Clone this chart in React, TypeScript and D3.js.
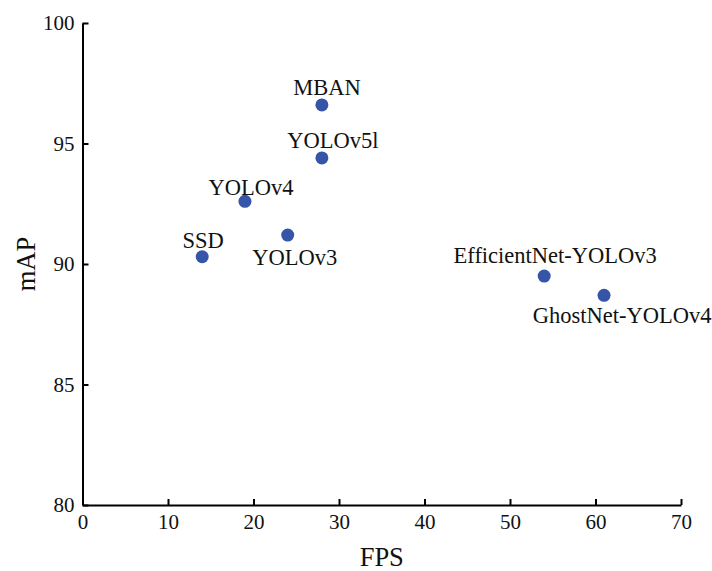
import { useEffect, useRef } from "react";
import * as d3 from "d3";

const models = ["MBAN", "YOLOv5l", "YOLOv4", "SSD", "YOLOv3", "EfficientNet-YOLOv3", "GhostNet-YOLOv4"];
const fps = [28, 28, 19, 14, 24, 54, 61];
const mapValues = [96.6, 94.4, 92.6, 90.3, 91.2, 89.5, 88.7];
const xTicks = [0, 10, 20, 30, 40, 50, 60, 70];
const yTicks = [80, 85, 90, 95, 100];

// label placement relative to the dot (dx, dy of baseline)
const labelOffset: Record<string, [number, number]> = {
  MBAN: [5, -10],
  YOLOv5l: [11, -10],
  YOLOv4: [6, -6],
  SSD: [1, -9],
  YOLOv3: [7, 30],
  "EfficientNet-YOLOv3": [11, -13],
  "GhostNet-YOLOv4": [18, 28],
};

const FONT = '"Liberation Serif", "Times New Roman", serif';

export default function App() {
  const ref = useRef<SVGSVGElement>(null);

  useEffect(() => {
    const svg = d3.select(ref.current);
    svg.selectAll("*").remove();

    const margin = { top: 23, right: 31, bottom: 66, left: 82.5 };
    const width = 712 - margin.left - margin.right;
    const height = 571 - margin.top - margin.bottom;

    const x = d3.scaleLinear().domain([0, 70]).range([0, width]);
    const y = d3.scaleLinear().domain([80, 100]).range([height, 0]);

    const chart = svg
      .append("g")
      .attr("transform", `translate(${margin.left},${margin.top})`);

    // X axis
    const xAxis = chart
      .append("g")
      .attr("transform", `translate(0,${height})`)
      .call(d3.axisBottom(x).tickValues(xTicks).tickSizeInner(-6).tickSizeOuter(0).tickPadding(9));

    // Y axis
    const yAxis = chart
      .append("g")
      .call(d3.axisLeft(y).tickValues(yTicks).tickSizeInner(-6).tickSizeOuter(0).tickPadding(8));

    [xAxis, yAxis].forEach((a) => {
      a.select(".domain").attr("stroke", "#000").attr("stroke-width", 2);
      a.selectAll(".tick line").attr("stroke", "#000").attr("stroke-width", 2);
      a.selectAll(".tick text")
        .attr("fill", "#111")
        .style("font-family", FONT)
        .style("font-size", "21px");
    });

    const data = models.map((m, i) => ({ name: m, fps: fps[i], map: mapValues[i] }));

    chart
      .selectAll(".dot")
      .data(data)
      .enter()
      .append("circle")
      .attr("class", "dot")
      .attr("cx", (d) => x(d.fps))
      .attr("cy", (d) => y(d.map))
      .attr("r", 6.5)
      .attr("fill", "#3654a8");

    chart
      .selectAll(".label")
      .data(data)
      .enter()
      .append("text")
      .attr("class", "label")
      .attr("x", (d) => x(d.fps) + labelOffset[d.name][0])
      .attr("y", (d) => y(d.map) + labelOffset[d.name][1])
      .attr("text-anchor", "middle")
      .attr("fill", "#111")
      .style("font-family", FONT)
      .style("font-size", "22.5px")
      .text((d) => d.name);

    // X-axis label
    svg
      .append("text")
      .attr("x", margin.left + width / 2)
      .attr("y", 566)
      .attr("text-anchor", "middle")
      .attr("fill", "#111")
      .style("font-family", FONT)
      .style("font-size", "26.5px")
      .text("FPS");

    // Y-axis label
    svg
      .append("text")
      .attr("transform", `translate(35,${margin.top + height / 2}) rotate(-90)`)
      .attr("text-anchor", "middle")
      .attr("fill", "#111")
      .style("font-family", FONT)
      .style("font-size", "26.5px")
      .text("mAP");
  }, []);

  return (
    <svg
      ref={ref}
      width={712}
      height={571}
      style={{ position: "absolute", left: 0, top: 0, background: "#fff" }}
    />
  );
}
